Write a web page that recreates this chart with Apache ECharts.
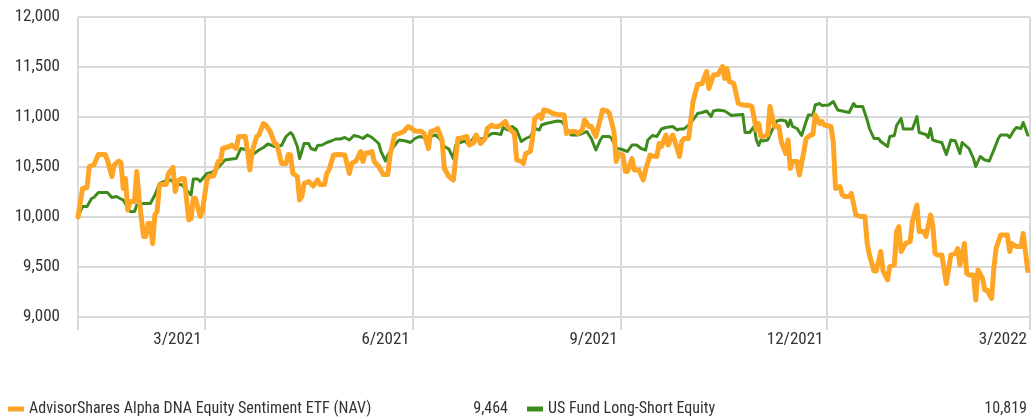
<!DOCTYPE html>
<html>
<head>
<meta charset="utf-8">
<title>Growth of 10,000</title>
<script src="https://cdn.jsdelivr.net/npm/echarts@6/dist/echarts.min.js"></script>
<style>
  html, body { margin: 0; padding: 0; background: #fff; }
  #chart { width: 1034px; height: 420px; }
</style>
</head>
<body>
<div id="chart"></div>
<script>
// x positions are calendar days counted from startDate
const startDate = [2021, 0, 4];
const axisEndDate = '2022-03-01';

const fundName = 'AdvisorShares Alpha DNA Equity Sentiment ETF (NAV)';
const fundDays = [0,2,4,5,7,9,12,13,15,16,18,19,20,21,22,23,25,26,27,29,30,31,32,33,34,35,36,37,39,40,42,43,44,46,47,49,50,51,52,54,55,57,58,60,62,63,64,67,68,70,71,74,75,76,77,79,80,82,83,85,87,88,90,92,93,94,95,97,98,99,100,102,104,106,107,109,110,111,113,115,118,120,121,123,125,126,127,129,130,131,133,135,137,138,140,142,144,146,147,149,152,153,155,156,158,159,161,162,164,166,167,168,169,172,173,175,176,178,180,181,183,184,186,187,189,190,192,193,194,196,197,198,200,201,202,204,205,206,208,210,212,215,216,218,220,221,223,224,226,227,229,231,232,234,235,237,238,239,241,242,243,245,246,248,250,251,253,254,256,257,258,260,261,263,264,266,267,268,270,271,272,274,276,278,279,281,283,285,286,287,288,290,292,294,297,298,300,301,302,303,305,306,307,308,310,311,313,314,315,316,318,319,321,322,324,325,326,328,329,330,333,334,335,337,338,339,341,342,344,346,348,349,350,352,353,355,356,358,359,361,362,363,364,366,368,369,371,372,374,375,377,378,379,380,382,384,386,388,389,390,392,393,394,396,397,398,400,401,402,404,405,406,408,409,411,412,413,415,417,418,419,420];
const fundValues = [10000,10285,10295,10505,10520,10625,10625,10570,10405,10520,10560,10545,10285,10385,10070,10155,10155,10455,10185,9805,9805,9935,9935,9735,10020,10055,10320,10325,10325,10435,10495,10255,10360,10385,10385,9970,9985,10185,10185,10005,10055,10370,10410,10410,10555,10560,10685,10705,10720,10685,10805,10805,10655,10470,10655,10805,10820,10935,10920,10855,10735,10725,10535,10535,10625,10620,10435,10405,10170,10205,10335,10355,10310,10370,10325,10325,10435,10470,10620,10625,10620,10435,10535,10560,10655,10555,10635,10645,10655,10555,10505,10425,10425,10620,10820,10835,10855,10905,10895,10860,10855,10835,10685,10855,10870,10885,10770,10485,10405,10370,10585,10785,10785,10805,10720,10745,10820,10735,10785,10885,10920,10905,10905,10920,10955,10905,10855,10835,10570,10555,10535,10635,10655,10785,10985,11020,10985,11070,11060,11035,11025,11020,10835,10855,10855,10835,10870,10970,10905,10905,10805,10985,11070,11060,11035,10855,10555,10635,10620,10455,10455,10585,10470,10470,10370,10470,10620,10610,10605,10735,10705,10820,10720,10820,10755,10605,10755,10785,10785,10970,11155,11325,11335,11455,11285,11420,11425,11505,11385,11485,11355,11335,11135,11120,11115,11105,10870,10935,10805,10805,10820,11105,11005,10905,10905,10755,10635,10770,10485,10555,10555,10420,10655,10785,10820,10825,11020,10935,10955,10920,10905,10755,10285,10305,10220,10205,10205,10235,10020,10005,10005,9735,9620,9460,9460,9655,9460,9370,9505,9520,9855,9905,9655,9735,9755,9955,10120,9855,9855,9805,10020,9920,9635,9620,9620,9335,9620,9635,9685,9520,9735,9435,9420,9420,9170,9470,9385,9270,9270,9185,9485,9685,9820,9820,9820,9655,9735,9705,9705,9835,9655,9464];

const catName = 'US Fund Long-Short Equity';
const catDays = [0,2,4,6,7,9,13,15,17,19,20,23,25,26,29,32,34,36,38,41,43,46,48,50,51,53,54,57,59,61,63,65,68,70,72,74,77,80,82,84,87,90,92,94,95,97,98,100,102,103,105,106,108,110,112,114,116,118,120,122,124,126,128,130,133,134,136,137,139,141,142,145,147,149,151,153,156,158,160,162,164,166,167,169,171,173,175,176,179,181,183,185,187,188,190,192,194,196,198,200,202,204,205,207,209,212,214,216,218,221,223,225,227,229,231,232,235,236,238,240,243,245,247,249,251,252,254,256,258,260,263,265,266,268,270,272,274,276,278,280,281,283,286,287,289,291,294,295,297,299,300,301,302,303,305,307,309,311,313,314,315,316,318,320,322,323,325,326,328,329,332,334,336,339,341,343,344,347,349,350,352,354,355,358,359,361,362,364,365,367,369,371,372,375,376,377,378,380,382,383,384,386,388,390,391,393,394,396,397,399,401,403,405,407,408,411,412,414,415,417,418,419,420];
const catValues = [10000,10105,10105,10185,10195,10245,10245,10195,10205,10180,10170,10055,10055,10120,10135,10135,10220,10335,10355,10370,10335,10320,10270,10220,10380,10380,10355,10435,10445,10470,10520,10570,10580,10585,10685,10675,10620,10670,10695,10730,10705,10715,10805,10845,10820,10705,10585,10735,10735,10685,10670,10715,10720,10745,10760,10780,10780,10795,10770,10815,10805,10785,10820,10795,10735,10655,10560,10620,10685,10745,10770,10760,10745,10785,10805,10795,10805,10820,10785,10705,10680,10585,10720,10745,10760,10720,10795,10770,10785,10805,10835,10835,10825,10895,10870,10905,10870,10755,10785,10805,10885,10870,10920,10935,10945,10960,10955,10885,10820,10820,10835,10855,10785,10670,10770,10805,10805,10785,10685,10680,10655,10720,10720,10685,10670,10770,10815,10805,10880,10895,10905,10870,10880,10880,10920,10970,11035,11045,11060,11005,11060,11070,11060,11045,11015,11020,11025,10845,10845,10905,10770,10715,10770,10760,10770,10870,10960,10970,10960,10905,10970,10905,10885,10815,10955,11020,11020,11120,11135,11115,11120,11155,11070,11055,11045,11135,11105,11105,10970,10885,10785,10785,10755,10705,10805,10815,10915,10985,10880,10880,10880,11005,10845,10825,10795,10885,10770,10755,10745,10685,10625,10770,10760,10635,10745,10705,10685,10585,10505,10605,10570,10560,10670,10785,10820,10820,10795,10870,10895,10885,10945,10885,10819];

const tickDates = ['2021-03-01', '2021-06-01', '2021-09-01', '2021-12-01', '2022-03-01'];
const tickLabels = ['3/2021', '6/2021', '9/2021', '12/2021', '3/2022'];
const yTicks = [9000, 9500, 10000, 10500, 11000, 11500, 12000];

const font = '"Roboto Condensed", "Liberation Sans Narrow", "DejaVu Sans Condensed", Roboto, sans-serif';
const gridColor = '#d9d9d9';
const textColor = '#333';

function dayTime(d) {
  return new Date(startDate[0], startDate[1], startDate[2] + d).getTime();
}
function strTime(s) {
  const p = s.split('-').map(Number);
  return new Date(p[0], p[1] - 1, p[2]).getTime();
}
function pairs(days, values) {
  return days.map((d, i) => [dayTime(d), values[i]]);
}

const tickTimes = tickDates.map(strTime);
const lastValues = {};
lastValues[fundName] = fundValues[fundValues.length - 1];
lastValues[catName] = catValues[catValues.length - 1];

// one legend per series, so each block (name + final value) sits in its own half
function legendFor(name, left) {
  return {
    left: left,
    top: 401,
    padding: 0,
    icon: 'rect',
    itemWidth: 16,
    itemHeight: 5,
    selectedMode: false,
    itemStyle: { borderWidth: 0 },
    data: [name],
    formatter: n => '{n|' + n + '}{v|' + lastValues[n].toLocaleString('en-US') + '}',
    textStyle: {
      fontFamily: font,
      fontSize: 16,
      color: textColor,
      rich: {
        n: { width: 400, align: 'left', fontSize: 16, fontFamily: font, color: textColor },
        v: { width: 79, align: 'right', fontSize: 16, fontFamily: font, color: textColor }
      }
    }
  };
}

const chart = echarts.init(document.getElementById('chart'));
chart.setOption({
  animation: false,
  textStyle: { fontFamily: font },
  grid: { left: 78, right: 4, top: 17, bottom: 103 },
  xAxis: {
    // timestamps on a plain value scale, so that custom tick dates can be used
    type: 'value',
    min: dayTime(0),
    max: strTime(axisEndDate),
    axisLine: { show: false },
    axisTick: {
      show: true,
      length: 13,
      customValues: [dayTime(0)].concat(tickTimes),
      lineStyle: { color: gridColor, width: 2 }
    },
    splitLine: { show: true, lineStyle: { color: gridColor, width: 2 } },
    axisLabel: {
      customValues: tickTimes,
      align: 'right',
      margin: 14,
      padding: [0, 3, 0, 0],
      fontSize: 17,
      color: textColor,
      fontFamily: font,
      formatter: function (v) {
        let best = 0;
        tickTimes.forEach((t, i) => { if (Math.abs(t - v) < Math.abs(tickTimes[best] - v)) best = i; });
        return tickLabels[best];
      }
    }
  },
  yAxis: {
    type: 'value',
    min: yTicks[0],
    max: yTicks[yTicks.length - 1],
    interval: 500,
    axisLine: { show: false },
    axisTick: { show: false },
    splitLine: { lineStyle: { color: gridColor, width: 2 } },
    axisLabel: {
      margin: 18,
      fontSize: 17,
      color: textColor,
      fontFamily: font,
      formatter: v => v.toLocaleString('en-US')
    }
  },
  legend: [legendFor(fundName, 8), legendFor(catName, 527)],
  series: [
    {
      name: fundName,
      type: 'line',
      z: 3,
      showSymbol: false,
      symbol: 'none',
      color: '#ffa525',
      lineStyle: { width: 5, color: '#ffa525', join: 'round', cap: 'round' },
      data: pairs(fundDays, fundValues)
    },
    {
      name: catName,
      type: 'line',
      z: 2,
      showSymbol: false,
      symbol: 'none',
      color: '#3d8b1d',
      lineStyle: { width: 3, color: '#3d8b1d', join: 'round', cap: 'round' },
      data: pairs(catDays, catValues)
    }
  ]
});
</script>
</body>
</html>
